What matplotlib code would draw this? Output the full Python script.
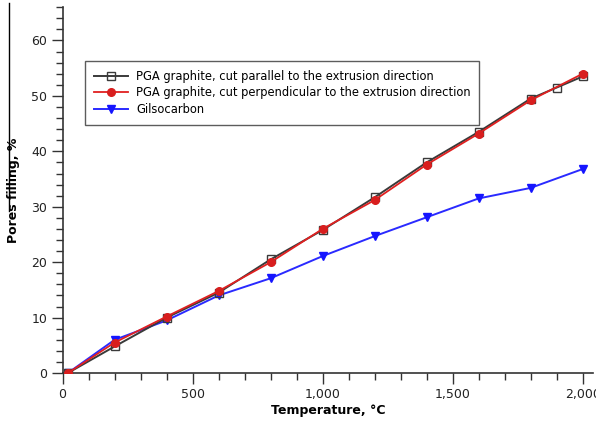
import matplotlib
matplotlib.use("Agg")
import matplotlib.pyplot as plt
from matplotlib.lines import Line2D
from matplotlib.ticker import MultipleLocator, FuncFormatter

# Temperature points (°C) and pore filling (%) for each graphite grade
temp_parallel = [20, 200, 400, 600, 800, 1000, 1200, 1400, 1600, 1800, 1900, 2000]
fill_parallel = [0, 4.8, 10.0, 14.5, 20.5, 25.8, 31.7, 38.0, 43.5, 49.5, 51.5, 53.5]

temp_perpendicular = [20, 200, 400, 600, 800, 1000, 1200, 1400, 1600, 1800, 2000]
fill_perpendicular = [0, 5.5, 10.2, 14.8, 20.0, 26.0, 31.2, 37.6, 43.2, 49.2, 54.0]

temp_gilso = [20, 200, 400, 600, 800, 1000, 1200, 1400, 1600, 1800, 2000]
fill_gilso = [0, 6.0, 9.5, 14.0, 17.1, 21.1, 24.7, 28.1, 31.5, 33.4, 36.8]

series_labels = [
    "PGA graphite, cut parallel to the extrusion direction",
    "PGA graphite, cut perpendicular to the extrusion direction",
    "Gilsocarbon",
]

fig = plt.figure(figsize=(5.96, 4.23), dpi=100)
ax = fig.add_axes([0.105, 0.118, 0.89, 0.865])

ax.plot(temp_parallel, fill_parallel, color="#3a3a3a", lw=1.4,
        marker="s", ms=6, mfc="none", mec="#3a3a3a", mew=1.0,
        label=series_labels[0], zorder=3)
ax.plot(temp_perpendicular, fill_perpendicular, color="#e02020", lw=1.3,
        marker="o", ms=5.5, mfc="#d81e1e", mec="#d81e1e",
        label=series_labels[1], zorder=4)
ax.plot(temp_gilso, fill_gilso, color="#2a2aff", lw=1.4,
        marker="v", ms=6, mfc="#1515ff", mec="#1515ff",
        label=series_labels[2], zorder=2)

ax.set_xlim(0, 2040)
ax.set_ylim(0, 66)

ax.xaxis.set_major_locator(MultipleLocator(500))
ax.xaxis.set_minor_locator(MultipleLocator(100))
ax.yaxis.set_major_locator(MultipleLocator(10))
ax.yaxis.set_minor_locator(MultipleLocator(2))
ax.xaxis.set_major_formatter(FuncFormatter(lambda v, _: f"{int(v):,}"))

ax.spines["top"].set_visible(False)
ax.spines["right"].set_visible(False)
for side in ("left", "bottom"):
    ax.spines[side].set_color("#333333")
    ax.spines[side].set_linewidth(1.2)

ax.tick_params(which="major", direction="out", length=8, width=1.0,
               colors="#333333", labelsize=9, labelcolor="#222222", pad=3)
ax.tick_params(which="minor", direction="out", length=5, width=1.0, colors="#333333")

ax.set_xlabel("Temperature, °C", fontsize=9, fontweight="bold", labelpad=2)
ax.set_ylabel("Pores filling, %", fontsize=9, fontweight="bold", labelpad=8)

leg = ax.legend(loc="upper left", bbox_to_anchor=(0.042, 0.852), borderaxespad=0,
                fontsize=8.3, frameon=True, fancybox=False, edgecolor="#333333",
                handlelength=3.0, handletextpad=0.7, borderpad=0.75,
                labelspacing=0.3)
leg.get_frame().set_linewidth(1.0)

# thin vertical rule at the far left of the figure
fig.add_artist(Line2D([0.015, 0.015], [0.50, 0.993], color="black", lw=1.0))

fig.savefig("out.png", dpi=100)
